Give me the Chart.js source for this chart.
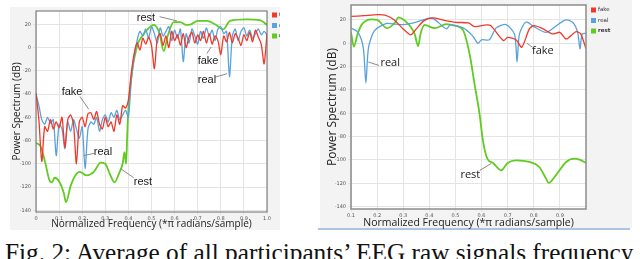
<!DOCTYPE html>
<html>
<head>
<meta charset="utf-8">
<script src="https://cdn.jsdelivr.net/npm/chart.js@4.4.0/dist/chart.umd.min.js"></script>
<style>
  body { margin: 0; width: 640px; height: 259px; overflow: hidden; background: #fff; position: relative; }
  .panel { position: absolute; background: #f3f3f3; }
  canvas { position: absolute; }
  #caption { position: absolute; left: 5px; white-space: nowrap; font-family: "Liberation Serif", "DejaVu Serif", serif; line-height: 1; color: #111; }
</style>
</head>
<body>
<div class="panel" style="left:10px;top:7px;width:270px;height:223px"></div>
<div class="panel" style="left:320px;top:0;width:312px;height:228px"></div>
<div class="panel" style="left:318px;top:228px;width:312px;height:2px;background:#aac4e2"></div>
<canvas id="leftChart" width="280" height="233" style="left:0;top:0;width:280px;height:233px"></canvas>
<canvas id="rightChart" width="312" height="232" style="left:320px;top:0;width:312px;height:232px"></canvas>
<div id="caption">Fig. 2: Average of all participants’ EEG raw signals frequency</div>
<script>
// ---- left chart data ----
const leftFreq = [0, 0.0125, 0.025, 0.0375, 0.05, 0.0625, 0.075, 0.0875, 0.1, 0.1125, 0.125, 0.1375, 0.15, 0.1625, 0.175, 0.1875, 0.2, 0.2125, 0.225, 0.2375, 0.25, 0.2625, 0.275, 0.2875, 0.3, 0.3125, 0.325, 0.3375, 0.35, 0.3625, 0.375, 0.3875, 0.4, 0.4125, 0.425, 0.4375, 0.45, 0.4625, 0.475, 0.4875, 0.5, 0.5125, 0.525, 0.5375, 0.55, 0.5625, 0.575, 0.5875, 0.6, 0.6125, 0.625, 0.6375, 0.65, 0.6625, 0.675, 0.6875, 0.7, 0.7125, 0.725, 0.7375, 0.75, 0.7625, 0.775, 0.7875, 0.8, 0.8125, 0.825, 0.8375, 0.85, 0.8625, 0.875, 0.8875, 0.9, 0.9125, 0.925, 0.9375, 0.95, 0.9625, 0.975, 0.9875, 1.0];
const leftFake = [-39, -62, -98, -68, -72, -62, -70, -64, -69, -60, -86, -62, -58, -66, -100, -64, -60, -68, -57, -56, -62, -55, -66, -70, -60, -68, -64, -72, -58, -66, -50, -52, -45, -22, -5, 4, -2, 8, 3, 9, 2, -18, 8, 12, 2, 10, 0, 14, 6, 11, 2, 12, 0, 9, 13, 4, 11, 6, 14, 4, 12, 3, 10, 6, -6, 10, 5, 13, 4, 12, 8, 2, 11, 6, 13, 5, 15, 9, 3, -14, 12];
const leftReal = [-40, -50, -62, -66, -60, -65, -62, -93, -66, -70, -87, -64, -72, -62, -70, -78, -68, -104, -70, -64, -66, -60, -72, -62, -58, -64, -56, -60, -54, -62, -58, -54, -60, -28, -8, 6, 14, 10, 16, 8, 18, 12, 4, 17, 10, 14, 18, 6, 15, 8, 16, -12, 12, 4, 16, 10, 3, 14, 8, 17, 10, 15, 6, 16, 18, 12, 14, -25, 10, 16, 6, 14, 17, 10, 15, 8, 12, 16, 11, 14, 11];
const leftRestFreq = [0, 0.02, 0.04, 0.06, 0.07, 0.08, 0.1, 0.12, 0.13, 0.15, 0.17, 0.19, 0.22, 0.25, 0.28, 0.3, 0.32, 0.34, 0.36, 0.375, 0.383, 0.39, 0.395, 0.4, 0.41, 0.42, 0.43, 0.44, 0.46, 0.48, 0.51, 0.535, 0.553, 0.57, 0.596, 0.625, 0.65, 0.67, 0.7, 0.74, 0.78, 0.81, 0.84, 0.91, 0.97, 1.0];
const leftRest = [-82, -85, -99, -115, -116, -112, -115, -125, -133, -119, -110, -107, -110, -107, -99, -100, -109, -116, -108, -100, -90, -100, -75, -53, -30, -15, -5, 3, 10, 15, 19.5, 12, -3, 10, 22, 22, 19.5, 20, 23, 23, 19.5, 15.7, 23, 24.3, 23.7, 19.5];
const leftXTicks = [0, 0.1, 0.2, 0.3, 0.4, 0.5, 0.6, 0.7, 0.8, 0.9, 1.0];
const leftXLabels = ['0', '0.1', '0.2', '0.3', '0.4', '0.5', '0.6', '0.7', '0.8', '0.9', '1.0'];

// ---- right chart data ----
const rightFakeFreq = [0.1, 0.15, 0.2, 0.23, 0.261, 0.3, 0.329, 0.35, 0.38, 0.414, 0.45, 0.5, 0.55, 0.573, 0.62, 0.636, 0.684, 0.7, 0.733, 0.754, 0.783, 0.8, 0.83, 0.872, 0.9, 0.924, 0.962, 0.98, 1.0];
const rightFake = [23, 23.7, 24.5, 24.2, 20.8, 12.3, 7.2, 12.3, 19.4, 21.7, 20, 18, 17.4, 14.3, 15.7, 15, 2.3, 5, 2.8, -3.4, 12.3, 15.1, 13, 8, 9.4, 3.7, 10, 8, -4.8];
const rightRealFreq = [0.1, 0.127, 0.147, 0.157, 0.167, 0.19, 0.236, 0.27, 0.3, 0.35, 0.4, 0.42, 0.465, 0.48, 0.529, 0.565, 0.586, 0.6, 0.63, 0.656, 0.694, 0.726, 0.736, 0.745, 0.77, 0.8, 0.847, 0.898, 0.924, 0.949, 0.968, 0.977, 0.985, 1.0];
const rightReal = [13, 9.4, -3.7, -34, -3.7, 10.9, 17, 16.4, 16, 18.2, 21.6, 20.5, 12.3, 15.7, 13.2, 6.6, 0, 3, 3, 13.2, 16, 7.8, -16, 7.8, 18.2, 14.3, 9.4, 17, 20, 18, 9.4, -4.8, 7.8, 8.5];
const rightRestFreq = [0.1, 0.111, 0.125, 0.141, 0.179, 0.2, 0.239, 0.27, 0.281, 0.306, 0.344, 0.357, 0.366, 0.382, 0.42, 0.465, 0.5, 0.529, 0.554, 0.573, 0.592, 0.605, 0.622, 0.644, 0.675, 0.7, 0.733, 0.783, 0.821, 0.847, 0.857, 0.885, 0.924, 0.955, 0.975, 1.0];
const rightRest = [9.4, -2.8, 7.8, 16, 20.5, 20, 12.9, 18.2, 22.2, 19.4, 7.8, -2.5, 7.8, 15.7, 12.9, 16.4, 15, 11.3, -9, -34.7, -60, -83, -98.8, -102.5, -108.8, -102.5, -100.3, -101.7, -106, -116, -119.7, -113, -101.7, -98.8, -99.7, -102.5];
const rightXTicks = [0.1, 0.2, 0.3, 0.4, 0.5, 0.6, 0.7, 0.8, 0.9];
const rightXLabels = ['0.1', '0.2', '0.3', '0.4', '0.5', '0.6', '0.7', '0.8', '0.9'];

const yTicks = [20, 0, -20, -40, -60, -80, -100, -120, -140];
const yLabels = ['20', '0', '-20', '-40', '-60', '-80', '-100', '-120', '-140'];
const seriesNames = ['fake', 'real', 'rest'];
const seriesColors = ['#f2382a', '#5aa2dc', '#5fcc1f'];

// annotation labels: text, text pos, leader start, leader end (data units)
const leftNotes = [
  ['fake', 0.156, -38, 0.19, -42, 0.228, -53],
  ['real', 0.29, -90, 0.252, -91, 0.206, -93],
  ['rest', 0.463, -115.5, 0.423, -112, 0.365, -104],
  ['rest', 0.476, 25.5, 0.535, 26.6, 0.61, 23],
  ['fake', 0.745, -11.5, 0.74, -5, 0.758, 0.5],
  ['real', 0.74, -27.5, 0.776, -25.4, 0.827, -22.5]
];
const rightNotes = [
  ['real', 0.25, -16.5, 0.207, -19, 0.166, -16],
  ['fake', 0.835, -6.5, 0.795, -3.4, 0.774, 0],
  ['rest', 0.557, -113, 0.593, -109, 0.637, -103]
];

const pairs = (xs, ys) => xs.map((x, i) => ({ x: x, y: ys[i] }));

const framePlugin = {
  id: 'frame',
  beforeDraw(chart, args, opts) {
    const a = chart.chartArea, c = chart.ctx;
    c.save();
    c.fillStyle = '#ffffff';
    c.fillRect(a.left, a.top, a.right - a.left, a.bottom - a.top);
    c.restore();
  },
  afterDraw(chart, args, opts) {
    const a = chart.chartArea, c = chart.ctx;
    const xs = chart.scales.x, ys = chart.scales.y;
    c.save();
    c.strokeStyle = opts.frameColor;
    c.lineWidth = opts.frameWidth;
    c.strokeRect(a.left, a.top, a.right - a.left, a.bottom - a.top);
    // annotations
    c.font = opts.noteFont;
    c.textAlign = 'center';
    c.textBaseline = 'middle';
    opts.notes.forEach(n => {
      c.strokeStyle = '#8a8a8a';
      c.lineWidth = 1;
      c.beginPath();
      c.moveTo(xs.getPixelForValue(n[3]), ys.getPixelForValue(n[4]));
      c.lineTo(xs.getPixelForValue(n[5]), ys.getPixelForValue(n[6]));
      c.stroke();
      c.fillStyle = '#1a1a1a';
      c.fillText(n[0], xs.getPixelForValue(n[1]), ys.getPixelForValue(n[2]));
    });
    // legend
    c.textAlign = 'left';
    c.font = opts.legendFont;
    seriesNames.forEach((name, i) => {
      const lx = a.right + opts.legendDx, ly = a.top + opts.legendDy + i * opts.legendGap;
      c.fillStyle = seriesColors[i];
      c.fillRect(lx, ly - 2.5, 5, 5);
      c.fillStyle = '#333';
      c.font = (i === 2 ? 'bold ' : '') + opts.legendFont;
      c.fillText(name, lx + 7, ly);
    });
    c.restore();
  }
};

function makeChart(el, cfg) {
  const tickFont = { size: 5, family: 'DejaVu Sans' };
  return new Chart(el, {
    type: 'line',
    data: {
      datasets: [
        { label: 'fake', data: cfg.fake, borderColor: seriesColors[0], borderWidth: 1.3, tension: 0.25 },
        { label: 'real', data: cfg.real, borderColor: seriesColors[1], borderWidth: 1.3, tension: 0.25 },
        { label: 'rest', data: cfg.rest, borderColor: seriesColors[2], borderWidth: 1.8, cubicInterpolationMode: 'monotone' }
      ]
    },
    options: {
      responsive: false,
      animation: false,
      parsing: true,
      elements: { point: { radius: 0 } },
      layout: { padding: cfg.padding },
      plugins: {
        legend: { display: false },
        tooltip: { enabled: false },
        frame: cfg.frame
      },
      scales: {
        x: {
          type: 'linear', min: cfg.xMin, max: cfg.xMax,
          afterBuildTicks: s => { s.ticks = cfg.xTicks.map(v => ({ value: v })); },
          afterFit: s => { s.height = cfg.xHeight; },
          ticks: { font: tickFont, color: '#555', padding: 1, maxRotation: 0, autoSkip: false,
                   callback: (v, i) => cfg.xLabels[i] },
          grid: { color: '#e4e4e4', tickLength: 3 },
          border: { display: false },
          title: { display: true, text: 'Normalized Frequency (*π radians/sample)', color: '#222',
                   font: { size: cfg.xTitleSize, family: 'Open Sans' }, padding: { top: 0, bottom: cfg.xTitlePad } }
        },
        y: {
          min: cfg.yMin, max: cfg.yMax,
          afterBuildTicks: s => { s.ticks = yTicks.map(v => ({ value: v })); },
          afterFit: s => { s.width = cfg.yWidth; },
          ticks: { font: tickFont, color: '#555', padding: 2, autoSkip: false,
                   callback: (v, i) => yLabels[i] },
          grid: { color: '#e4e4e4', tickLength: 3 },
          border: { display: false },
          title: { display: true, text: 'Power Spectrum (dB)', color: '#222',
                   font: { size: cfg.yTitleSize, family: 'Open Sans' }, padding: { top: 1, bottom: 0 } }
        }
      }
    },
    plugins: [framePlugin]
  });
}

makeChart(document.getElementById('leftChart'), {
  fake: pairs(leftFreq, leftFake),
  real: pairs(leftFreq, leftReal),
  rest: pairs(leftRestFreq, leftRest),
  xMin: 0, xMax: 1, xTicks: leftXTicks, xLabels: leftXLabels,
  yMin: -141.5, yMax: 31.5,
  padding: { left: 10, top: 11, right: 13, bottom: 0 },
  xHeight: 21, yWidth: 26, xTitleSize: 10, xTitlePad: 3, yTitleSize: 10,
  frame: { frameColor: '#6a6a6a', frameWidth: 1, notes: leftNotes, noteFont: '11px "Liberation Sans"',
           legendFont: '5px "DejaVu Sans"', legendDx: 5, legendDy: 4, legendGap: 10.5 }
});

makeChart(document.getElementById('rightChart'), {
  fake: pairs(rightFakeFreq, rightFake),
  real: pairs(rightRealFreq, rightReal),
  rest: pairs(rightRestFreq, rightRest),
  xMin: 0.1, xMax: 1.0, xTicks: rightXTicks, xLabels: rightXLabels,
  yMin: -142, yMax: 32.8,
  padding: { left: 4, top: 5, right: 46, bottom: 0 },
  xHeight: 23, yWidth: 27, xTitleSize: 10.5, xTitlePad: 3, yTitleSize: 12,
  frame: { frameColor: '#8c8c8c', frameWidth: 1.5, notes: rightNotes, noteFont: '11px "Open Sans"',
           legendFont: '5.5px "DejaVu Sans"', legendDx: 5, legendDy: 5, legendGap: 10.5 }
});

// caption sized to span the page width, cap tops just below the charts
const cap = document.getElementById('caption');
const mctx = document.createElement('canvas').getContext('2d');
mctx.font = '20px "Liberation Serif"';
const fs = 20 * 632 / mctx.measureText(cap.textContent).width;
cap.style.fontSize = fs + 'px';
cap.style.top = (244 - 0.1755 * fs) + 'px';
</script>
</body>
</html>
